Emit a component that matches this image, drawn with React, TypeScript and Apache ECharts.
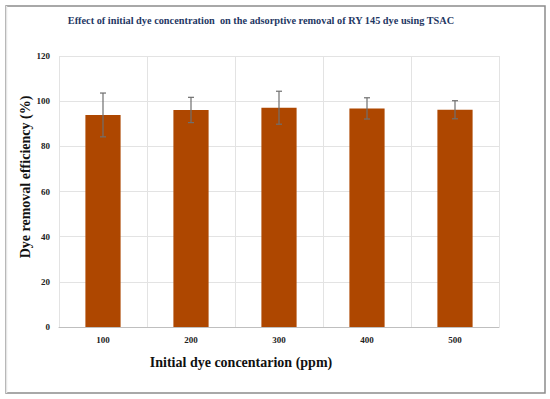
import React, { useEffect, useRef } from "react";
import * as echarts from "echarts";

const categories = ["100", "200", "300", "400", "500"];
const removal = [93.9, 96.1, 97.1, 96.8, 96.2];
const errors = [9.7, 5.6, 7.3, 4.7, 4.0];
const yTicks = { min: 0, max: 120, interval: 20 };

export default function App() {
  const ref = useRef<HTMLDivElement>(null);
  useEffect(() => {
    if (!ref.current) return;
    const chart = echarts.init(ref.current, undefined, { renderer: "svg" });
    const serif = "Liberation Serif";
    chart.setOption({
      animation: false,
      backgroundColor: "#ffffff",
      textStyle: { fontFamily: serif },
      grid: { left: 59, top: 56, width: 440, height: 271 },
      xAxis: {
        type: "category",
        data: categories,
        axisLine: { lineStyle: { color: "#bfbfbf" } },
        axisTick: { show: false },
        axisLabel: { color: "#222", fontFamily: serif, fontWeight: "bold", fontSize: 9, margin: 8 },
        splitLine: { show: true, lineStyle: { color: "#e3e3e3" } },
      },
      yAxis: {
        type: "value",
        min: yTicks.min,
        max: yTicks.max,
        interval: yTicks.interval,
        axisLine: { show: false },
        axisTick: { show: false },
        axisLabel: { color: "#222", fontFamily: serif, fontWeight: "bold", fontSize: 9, margin: 9 },
        splitLine: { lineStyle: { color: "#e3e3e3" } },
      },
      graphic: [
        { type: "rect", shape: { x: 6, y: 6, width: 539, height: 387 }, style: { fill: "none", stroke: "#8c8c8c", lineWidth: 1.5 } },
        { type: "line", shape: { x1: 6.5, y1: 6, x2: 6.5, y2: 393 }, style: { stroke: "#e6e6e6", lineWidth: 1.5 } },
        {
          type: "text", x: 261, y: 20,
          style: { text: "Effect of initial dye concentration  on the adsorptive removal of RY 145 dye using TSAC", fill: "#1f3864", fontFamily: serif, fontWeight: "bold", fontSize: 10.3, align: "center", verticalAlign: "middle" },
        },
        {
          type: "text", x: 25, y: 177, rotation: Math.PI / 2,
          style: { text: "Dye removal efficiency (%)", fill: "#111", fontFamily: serif, fontWeight: "bold", fontSize: 14, align: "center", verticalAlign: "middle" },
        },
        {
          type: "text", x: 241, y: 362,
          style: { text: "Initial dye concentarion (ppm)", fill: "#111", fontFamily: serif, fontWeight: "bold", fontSize: 14, align: "center", verticalAlign: "middle" },
        },
      ],
      series: [
        {
          type: "bar",
          data: removal,
          barWidth: "40%",
          itemStyle: { color: "#ae4700" },
        },
        {
          type: "custom",
          data: removal.map((v, i) => [i, v - errors[i], v + errors[i]]),
          renderItem: (params: any, api: any) => {
            const x = api.value(0);
            const lo = api.coord([x, api.value(1)]);
            const hi = api.coord([x, api.value(2)]);
            const cap = 3;
            const style = { stroke: "#6f6f6f", lineWidth: 1.2 };
            return {
              type: "group",
              children: [
                { type: "line", shape: { x1: lo[0], y1: lo[1], x2: hi[0], y2: hi[1] }, style },
                { type: "line", shape: { x1: hi[0] - cap, y1: hi[1], x2: hi[0] + cap, y2: hi[1] }, style },
                { type: "line", shape: { x1: lo[0] - cap, y1: lo[1], x2: lo[0] + cap, y2: lo[1] }, style },
              ],
            };
          },
          z: 5,
        },
      ],
    });
    return () => chart.dispose();
  }, []);
  return <div ref={ref} style={{ position: "absolute", left: 0, top: 0, width: 550, height: 399 }} />;
}
